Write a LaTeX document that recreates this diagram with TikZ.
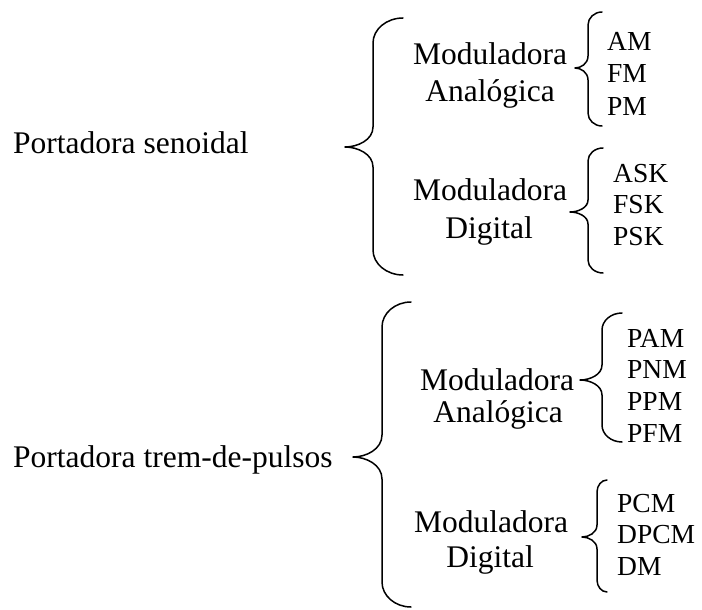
\documentclass[tikz,border=0pt]{standalone}
\usepackage{fontspec}
\setmainfont{Liberation Serif}
% #1 end x, #2 spine x, #3 tip x, #4 top y, #5 tip y, #6 bottom y, #7 end radius, #8 middle radius
\newcommand\drawbrace[8]{%
  \draw[bracestyle] (#1,#4) .. controls ({#2+0.45*(#1-#2)},#4) and (#2,{#4+0.45*#7}) .. (#2,#4+#7)
    -- (#2,#5-#8) .. controls (#2,{#5-0.35*#8}) and ({#3+0.45*(#2-#3)},#5) .. (#3,#5)
    .. controls ({#3+0.45*(#2-#3)},#5) and (#2,{#5+0.35*#8}) .. (#2,#5+#8)
    -- (#2,#6-#7) .. controls (#2,{#6-0.45*#7}) and ({#2+0.45*(#1-#2)},#6) .. (#1,#6);}
\begin{document}
\begin{tikzpicture}[x=1pt,y=-1pt,
  bracestyle/.style={line width=1.5pt,line cap=round,line join=round},
  main/.style={inner sep=0pt,font=\fontsize{31.5}{32}\selectfont},
  leaf/.style={inner sep=0pt,anchor=base west,font=\fontsize{27.5}{32}\selectfont}]
\useasboundingbox (0,0) rectangle (702,610);
% top part
\node[main,anchor=base west] (ps) at (13,153) {Portadora senoidal};
\drawbrace{403}{373}{345}{18}{147}{275}{25}{20}
\node[main,anchor=base] (ma1) at (490,65) {Moduladora};
\node[main,anchor=base] (aa1) at (490,102) {Analógica};
\drawbrace{602}{588}{575}{12}{68}{126}{13}{12}
\node[leaf] (am) at (607,51) {AM};
\node[leaf] (fm) at (607,83) {FM};
\node[leaf] (pm) at (607,115) {PM};
\node[main,anchor=base] (md1) at (490,200) {Moduladora};
\node[main,anchor=base] (dd1) at (489,238) {Digital};
\drawbrace{603}{588}{570}{148}{212}{273}{13}{12}
\node[leaf] (ask) at (613,182) {ASK};
\node[leaf] (fsk) at (613,213) {FSK};
\node[leaf] (psk) at (613,245) {PSK};
% bottom part
\node[main,anchor=base west] (pt) at (13,467) {Portadora trem-de-pulsos};
\drawbrace{411}{382}{353}{302}{457}{607}{25}{22}
\node[main,anchor=base] (ma2) at (497,390) {Moduladora};
\node[main,anchor=base] (aa2) at (498,422) {Analógica};
\drawbrace{622}{602}{580}{313}{380}{442}{17}{15}
\node[leaf] (pam) at (627,347) {PAM};
\node[leaf] (pnm) at (627,378) {PNM};
\node[leaf] (ppm) at (627,410) {PPM};
\node[leaf] (pfm) at (627,442) {PFM};
\node[main,anchor=base] (md2) at (491,532) {Moduladora};
\node[main,anchor=base] (dd2) at (490,567) {Digital};
\drawbrace{607}{597}{582}{480}{537}{592}{12}{12}
\node[leaf] (pcm) at (617,512) {PCM};
\node[leaf] (dpcm) at (617,543) {DPCM};
\node[leaf] (dm) at (617,575) {DM};
\end{tikzpicture}
\end{document}
